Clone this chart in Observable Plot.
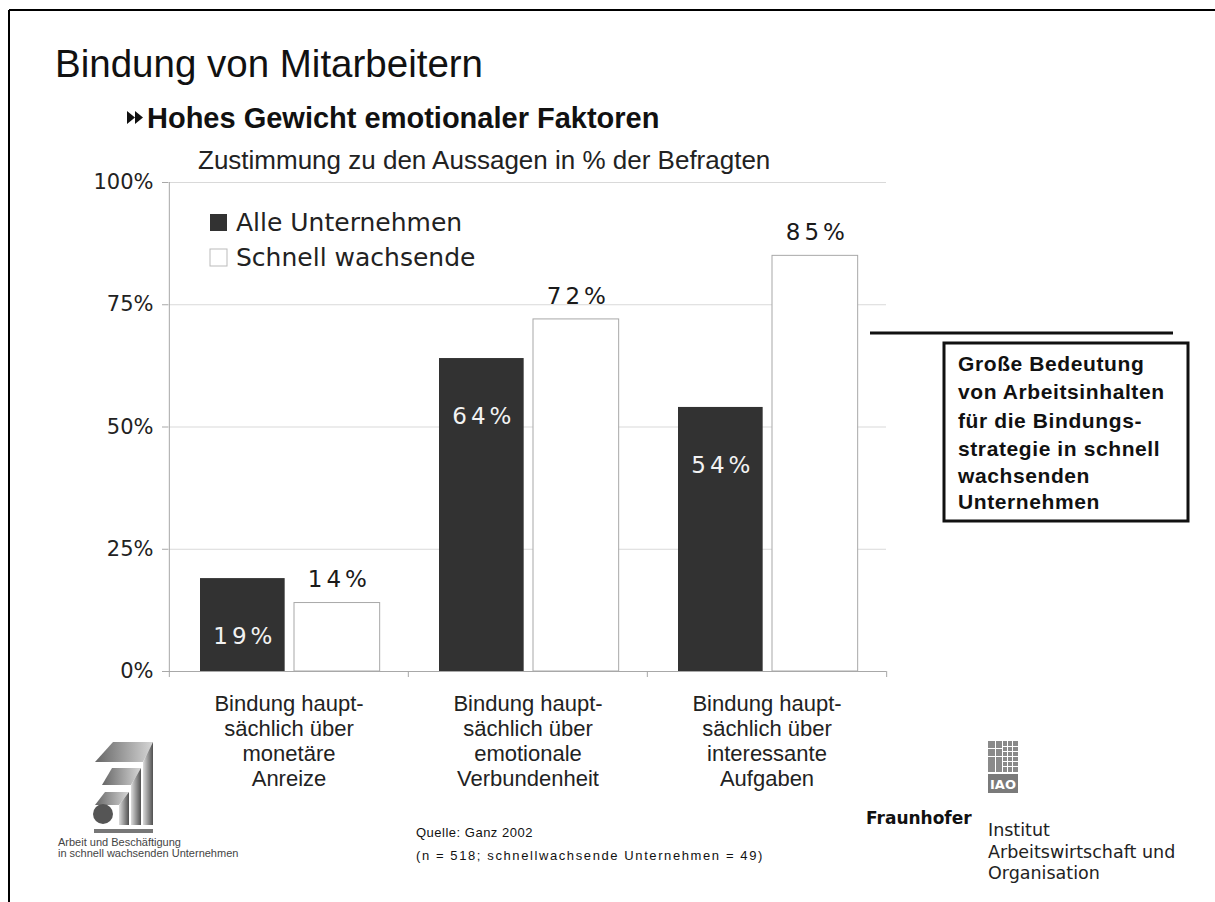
<!DOCTYPE html>
<html>
<head>
<meta charset="utf-8">
<script src="https://cdn.jsdelivr.net/npm/d3@7"></script>
<script src="https://cdn.jsdelivr.net/npm/@observablehq/plot@0.6"></script>
<style>
  html, body { margin: 0; padding: 0; background: #fff; }
  #page { position: relative; width: 1215px; height: 902px; overflow: hidden; background: #fff; }
  #chart { position: absolute; left: 0; top: 0; }
  #overlay { position: absolute; left: 0; top: 0; pointer-events: none; }
  .vlab text { letter-spacing: 4px; }
</style>
</head>
<body>
<div id="page">
  <div id="chart"></div>
  <svg id="overlay" width="1215" height="902" xmlns="http://www.w3.org/2000/svg">
    <defs>
      <linearGradient id="gH" x1="0" x2="1" y1="0" y2="0">
        <stop offset="0" stop-color="#666"/>
        <stop offset="1" stop-color="#d6d6d6"/>
      </linearGradient>
      <linearGradient id="gV" x1="0" x2="1" y1="0" y2="0">
        <stop offset="0" stop-color="#dcdcdc"/>
        <stop offset="1" stop-color="#505050"/>
      </linearGradient>
    </defs>
    <!-- slide frame -->
    <line x1="9" y1="10" x2="1215" y2="10" stroke="#000" stroke-width="2"/>
    <line x1="9" y1="10" x2="9" y2="902" stroke="#000" stroke-width="2"/>

    <!-- headings -->
    <text x="55" y="77" font-family="Liberation Sans, Arial, sans-serif" font-size="38.5" fill="#111">Bindung von Mitarbeitern</text>
    <path d="M127,111 L135,117.5 L127,124 Z M135,111 L143,117.5 L135,124 Z" fill="#111"/>
    <text x="147" y="128" font-family="Liberation Sans, Arial, sans-serif" font-size="29" font-weight="bold" fill="#111">Hohes Gewicht emotionaler Faktoren</text>
    <text x="198" y="169" font-family="Liberation Sans, Arial, sans-serif" font-size="26" fill="#222">Zustimmung zu den Aussagen in % der Befragten</text>

    <!-- legend -->
    <g id="legend" font-family="DejaVu Sans, Verdana, sans-serif" font-size="25" fill="#222"></g>

    <!-- annotation -->
    <line x1="870" y1="333" x2="1173" y2="333" stroke="#111" stroke-width="3"/>
    <rect x="944" y="343" width="244" height="178" fill="#fff" stroke="#111" stroke-width="3"/>
    <g font-family="Liberation Sans, Arial, sans-serif" font-size="21" font-weight="bold" fill="#111" letter-spacing="0.6">
      <text x="958" y="371">Große Bedeutung</text>
      <text x="958" y="399">von Arbeitsinhalten</text>
      <text x="958" y="428">für die Bindungs-</text>
      <text x="958" y="456">strategie in schnell</text>
      <text x="958" y="483">wachsenden</text>
      <text x="958" y="509">Unternehmen</text>
    </g>

    <!-- left logo -->
    <g>
      <polygon points="113,742 153,742 143,762 95,762" fill="url(#gH)"/>
      <polygon points="143,762 153,742 153,825 143,825" fill="url(#gV)"/>
      <polygon points="112,768 141,768 131,785 102,785" fill="url(#gH)"/>
      <polygon points="131,785 141,768 141,825 131,825" fill="url(#gV)"/>
      <polygon points="105,792 129,792 119,805 95,805" fill="url(#gH)"/>
      <polygon points="119,805 129,792 129,825 119,825" fill="url(#gV)"/>
      <circle cx="103" cy="814" r="10" fill="#555"/>
      <rect x="94" y="829" width="59" height="4" fill="#777"/>
    </g>
    <g font-family="Liberation Sans, Arial, sans-serif" font-size="11" fill="#444">
      <text x="58" y="846">Arbeit und Beschäftigung</text>
      <text x="58" y="857">in schnell wachsenden Unternehmen</text>
    </g>

    <!-- source -->
    <g font-family="Liberation Sans, Arial, sans-serif" font-size="13" fill="#111">
      <text x="416" y="837" letter-spacing="0.5">Quelle: Ganz 2002</text>
      <text x="416" y="860" letter-spacing="1.6">(n = 518; schnellwachsende Unternehmen = 49)</text>
    </g>

    <!-- Fraunhofer IAO logo -->
    <g>
      <rect x="988" y="741" width="30" height="31" fill="#8a8a8a"/>
      <g stroke="#fff" stroke-width="1">
        <line x1="995.5" y1="741" x2="995.5" y2="772"/>
        <line x1="1002.5" y1="741" x2="1002.5" y2="772"/>
        <line x1="988" y1="748.5" x2="1002.5" y2="748.5"/>
        <line x1="988" y1="756.5" x2="1018" y2="756.5"/>
        <line x1="1007.5" y1="741" x2="1007.5" y2="772"/>
        <line x1="1012.5" y1="741" x2="1012.5" y2="772"/>
        <line x1="1002.5" y1="746.5" x2="1018" y2="746.5"/>
        <line x1="1002.5" y1="751.5" x2="1018" y2="751.5"/>
        <line x1="1002.5" y1="761.5" x2="1018" y2="761.5"/>
        <line x1="1002.5" y1="766.5" x2="1018" y2="766.5"/>
      </g>
      <rect x="988" y="774" width="30" height="19" fill="#7a7a7a"/>
      <text x="1003" y="789" text-anchor="middle" font-family="DejaVu Sans, sans-serif" font-size="13" font-weight="bold" fill="#fff">IAO</text>
    </g>
    <text x="866" y="824" font-family="DejaVu Sans, sans-serif" font-size="17" font-weight="bold" fill="#111">Fraunhofer</text>
    <g font-family="DejaVu Sans, sans-serif" font-size="17.5" fill="#222">
      <text x="988" y="836">Institut</text>
      <text x="988" y="857.5">Arbeitswirtschaft und</text>
      <text x="988" y="879">Organisation</text>
    </g>
  </svg>
</div>
<script>
// ---- data ----
const categories = [
  "Bindung haupt-\nsächlich über\nmonetäre\nAnreize",
  "Bindung haupt-\nsächlich über\nemotionale\nVerbundenheit",
  "Bindung haupt-\nsächlich über\ninteressante\nAufgaben"
];
const seriesNames = ["Alle Unternehmen", "Schnell wachsende"];
const alleUnternehmen = [19, 64, 54];
const schnellWachsende = [14, 72, 85];
const yTicks = [0, 25, 50, 75, 100];

// ---- table built from the arrays ----
const rows = categories.map((cat, i) => ({cat, alle: alleUnternehmen[i], schnell: schnellWachsende[i]}));

const W = 1215, H = 800;
const mL = 168, mR = 329, mT = 182, mB = 129;
const bw = (W - mL - mR) / categories.length;

const plot = Plot.plot({
  width: W,
  height: H,
  marginLeft: mL,
  marginRight: mR,
  marginTop: mT,
  marginBottom: mB,
  style: {fontFamily: "DejaVu Sans, Verdana, sans-serif", fontSize: "21px", color: "#222", background: "transparent"},
  x: {domain: categories, padding: 0, label: null},
  y: {domain: [0, 100], label: null},
  marks: [
    Plot.gridY(yTicks, {stroke: "#d9d9d9", strokeOpacity: 1}),
    Plot.ruleX([categories[0]], {x: d => d, dx: -bw / 2, y1: 0, y2: 100, stroke: "#a8a8a8"}),
    Plot.ruleY([0], {stroke: "#a8a8a8"}),
    Plot.ruleX(categories, {x: d => d, dx: -bw / 2, y1: 0, y2: 0, insetBottom: -6, stroke: "#a8a8a8"}),
    Plot.ruleX([categories[categories.length - 1]], {x: d => d, dx: bw / 2, y1: 0, y2: 0, insetBottom: -6, stroke: "#a8a8a8"}),
    Plot.axisY(yTicks, {tickFormat: d => d + "%", tickSize: 6, tickPadding: 9, stroke: "#a8a8a8", fill: "#222", fontSize: 21, label: null}),
    Plot.axisX({tickSize: 0, tickPadding: 22, fontSize: 22, fontFamily: "Liberation Sans, Arial, sans-serif", lineHeight: 1.13, fill: "#222", label: null}),
    Plot.barY(rows, {x: "cat", y: "alle", fill: "#323232", insetLeft: 31, insetRight: bw - 116}),
    Plot.barY(rows, {x: "cat", y: "schnell", fill: "#ffffff", stroke: "#a8a8a8", insetLeft: 125, insetRight: bw - 211}),
    Plot.text(rows, {x: "cat", y: "alle", text: d => d.alle + "%", dx: 73.5 - bw / 2 + 2, dy: 58, fill: "#f2f2f2", fontSize: 23, className: "vlab"}),
    Plot.text(rows, {x: "cat", y: "schnell", text: d => d.schnell + "%", dx: 168 - bw / 2 + 2, dy: -23, fill: "#1a1a1a", fontSize: 23, className: "vlab"})
  ]
});
document.getElementById("chart").appendChild(plot);

// ---- legend ----
const legendG = d3.select("#legend");
const legendColors = ["#323232", "#ffffff"];
seriesNames.forEach((name, i) => {
  const yTop = 214 + i * 35;
  legendG.append("rect").attr("x", 210).attr("y", yTop).attr("width", 17).attr("height", 17)
    .attr("fill", legendColors[i]).attr("stroke", i ? "#bbb" : "none");
  legendG.append("text").attr("x", 236).attr("y", yTop + 17).text(name);
});
</script>
</body>
</html>
